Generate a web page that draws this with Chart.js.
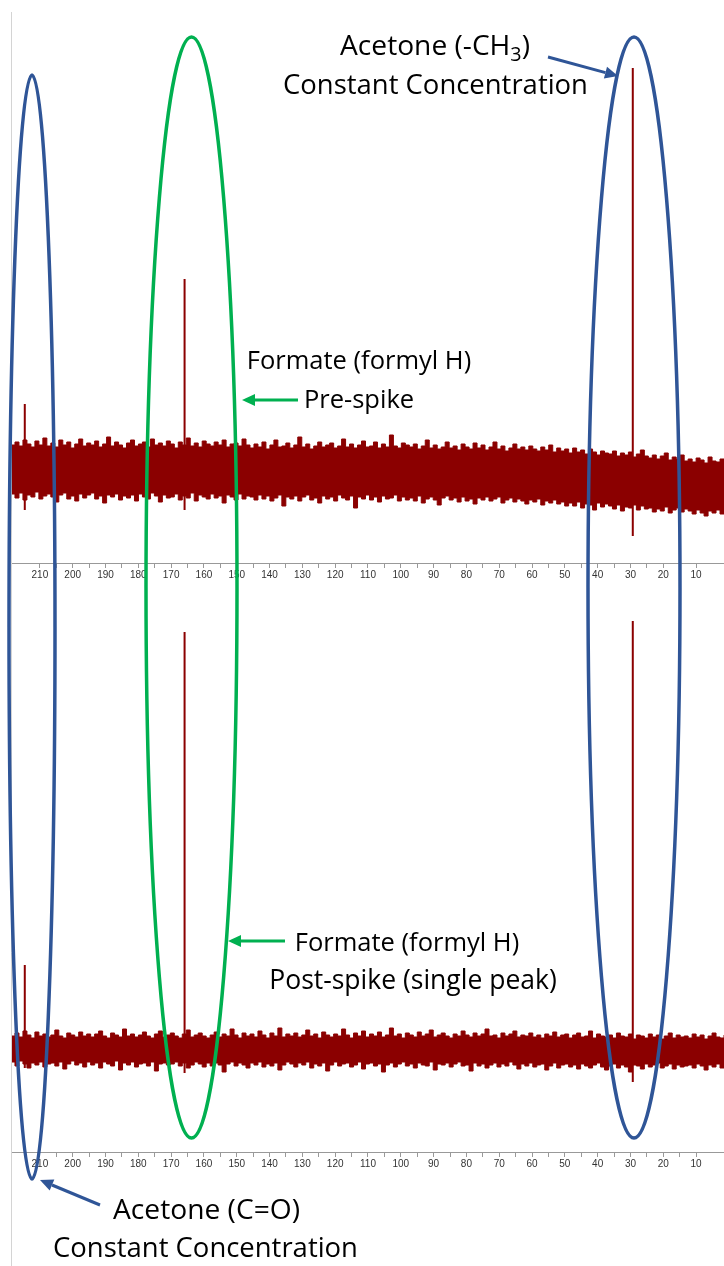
<!DOCTYPE html>
<html><head><meta charset="utf-8">
<script src="https://cdn.jsdelivr.net/npm/chart.js@4/dist/chart.umd.min.js"></script>
<style>html,body{margin:0;padding:0;background:#fff}#wrap{width:724px;height:1266px;position:relative}canvas{display:block}</style>
</head><body><div id="wrap"><canvas id="c" width="724" height="1266"></canvas></div>
<script>
// ---- data (13C NMR, ppm axis, arbitrary intensity) ----
const ppmStart = 218.8, ppmEnd = 1.5;
const tickValues = [210,200,190,180,170,160,150,140,130,120,110,100,90,80,70,60,50,40,30,20,10];
// pre-spike spectrum: noise envelope (upper / lower edge)
const preUpper = [30,33,29,35,31,28,34,30,37,29, 32,28,35,30,33,27,31,36,29,32, 30,34,28,31,38,29,33,30,27,32, 35,29,31,33,28,36,30,32,29,34,
 31,27,33,30,37,29,32,28,34,31, 29,33,30,35,28,31,32,29,36,30, 27,31,28,33,26,30,35,28,29,32, 27,30,38,28,31,26,29,33,28,30,
 32,27,29,36,28,31,27,30,34,28, 29,33,27,31,28,40,29,27,32,30, 28,31,26,29,35,27,30,26,28,33, 27,29,25,31,28,26,32,27,30,25,
 28,33,26,29,24,27,31,26,28,25, 29,26,24,28,25,30,23,27,24,26, 22,27,23,25,21,26,23,20,24,22, 21,24,19,22,20,23,18,21,25,19,
 17,20,16,19,22,15,18,16,20,14, 16,13,17,15,12,18,14,13,16,15];
const preLower = [-19,-23,-18,-25,-20,-22,-17,-24,-21,-19, -22,-27,-20,-18,-24,-21,-26,-19,-23,-20, -18,-24,-21,-28,-20,-22,-19,-25,-21,-23,
 -20,-26,-19,-22,-24,-18,-21,-27,-20,-23, -22,-19,-25,-21,-23,-18,-26,-20,-22,-24, -19,-23,-21,-28,-20,-22,-25,-19,-24,-21,
 -22,-25,-20,-24,-21,-26,-23,-20,-31,-22, -24,-21,-26,-22,-20,-25,-23,-28,-21,-24, -22,-26,-20,-23,-25,-21,-33,-22,-24,-20,
 -25,-22,-27,-21,-24,-23,-20,-26,-22,-25, -23,-26,-21,-28,-24,-22,-25,-30,-23,-21, -25,-23,-27,-22,-26,-24,-29,-23,-25,-22,
 -26,-24,-22,-28,-25,-23,-27,-24,-26,-29, -25,-27,-24,-30,-26,-28,-25,-29,-27,-31, -28,-31,-27,-33,-29,-30,-35,-28,-32,-29,
 -31,-34,-30,-36,-32,-33,-30,-35,-31,-34, -33,-37,-34,-36,-32,-38,-35,-33,-37,-34, -36,-39,-35,-38,-41,-36,-38,-35,-39,-37];
// post-spike spectrum: noise envelope
const postUpper = [14,17,13,19,15,12,18,14,16,13, 15,20,14,12,17,15,13,18,14,16, 13,16,19,14,12,17,15,13,21,14, 16,13,15,18,14,12,16,19,13,15,
 17,14,12,16,20,13,15,17,14,12, 15,18,13,16,14,21,15,12,17,14, 16,13,19,15,12,17,14,22,13,16, 14,17,13,15,20,14,16,12,18,15,
 13,16,14,21,15,12,17,14,19,13, 16,14,18,13,15,22,14,16,12,17, 15,13,18,14,16,20,13,15,17,14, 12,16,14,19,15,13,17,14,16,21,
 14,15,12,17,14,16,19,13,15,14, 17,13,15,12,16,14,18,13,15,16, 12,15,17,13,14,19,12,16,14,13, 15,12,17,14,13,16,11,15,14,12,
 16,13,15,11,14,17,12,15,13,14, 12,16,13,15,11,14,17,13,12,15];
const postLower = [-12,-16,-11,-14,-18,-13,-15,-12,-17,-14, -13,-16,-12,-19,-14,-11,-15,-13,-17,-12, -15,-13,-18,-12,-14,-16,-11,-20,-13,-15,
 -12,-17,-14,-13,-16,-12,-21,-14,-13,-15, -14,-12,-16,-13,-18,-15,-12,-14,-17,-13, -16,-13,-15,-22,-14,-12,-16,-13,-15,-18,
 -13,-15,-12,-17,-14,-16,-13,-20,-15,-12, -14,-17,-13,-15,-12,-18,-14,-16,-13,-21, -15,-12,-16,-14,-13,-17,-15,-12,-19,-14,
 -13,-16,-14,-22,-15,-13,-17,-14,-12,-16, -14,-18,-13,-15,-16,-12,-20,-14,-15,-13, -17,-14,-12,-16,-15,-21,-13,-16,-14,-18,
 -15,-13,-17,-14,-16,-12,-15,-19,-14,-16, -13,-17,-15,-14,-20,-16,-13,-18,-15,-14, -17,-15,-19,-14,-16,-18,-15,-13,-17,-20,
 -16,-14,-18,-15,-17,-22,-15,-16,-19,-14, -17,-15,-13,-18,-16,-14,-19,-15,-17,-16, -15,-18,-14,-16,-20,-15,-17,-14,-18,-16];
// peaks: acetone C=O, formate, acetone CH3
const peakPpm = [214.6, 165.9, 29.3];
const prePeakTop = [71, 196, 407];
const prePeakDip = [-35, -35, -61];
const postPeakTop = [85, 418, 429];
const postPeakDip = [-18, -23, -32];

// ---- layout constants ----
const panelOffset = 575;   // pre-spike trace stacked above post-spike
const DARK = '#8b0000';
const FAM = '"Open Sans", Lato, sans-serif';

function noisePoints(arr, off){
  const n = arr.length, step = (ppmStart - ppmEnd)/(n-1);
  return arr.map((v,i)=>({x: ppmStart - i*step, y: v + off}));
}
function peakPoints(tops, dips, off){
  const pts = [];
  peakPpm.forEach((p,i)=>{ pts.push({x:p,y:dips[i]+off},{x:p,y:tops[i]+off},{x:p,y:null}); });
  return pts;
}

const overlay = {
  id:'overlay',
  afterDraw(chart){
    const ctx = chart.ctx;
    ctx.save();
    // left frame line
    ctx.strokeStyle='#d4d4d4'; ctx.lineWidth=1;
    ctx.beginPath(); ctx.moveTo(11.5,12); ctx.lineTo(11.5,1266); ctx.stroke();
    // ellipses
    const ell=(cx,cy,rx,ry,col)=>{ctx.strokeStyle=col;ctx.lineWidth=3.5;ctx.beginPath();ctx.ellipse(cx,cy,rx,ry,0,0,Math.PI*2);ctx.stroke();};
    ell(32,627,23,552,'#2f5597');
    ell(191.5,587.5,45.5,550.5,'#00b050');
    ell(634,587.5,46,550.5,'#2f5597');
    // arrows
    const arrow=(x1,y1,x2,y2,col)=>{
      ctx.strokeStyle=col; ctx.fillStyle=col; ctx.lineWidth=3;
      const a=Math.atan2(y2-y1,x2-x1), L=13, W=6;
      const bx=x2-L*Math.cos(a), by=y2-L*Math.sin(a);
      ctx.beginPath(); ctx.moveTo(x1,y1); ctx.lineTo(bx,by); ctx.stroke();
      ctx.beginPath(); ctx.moveTo(x2,y2);
      ctx.lineTo(bx+W*Math.sin(a), by-W*Math.cos(a));
      ctx.lineTo(bx-W*Math.sin(a), by+W*Math.cos(a));
      ctx.closePath(); ctx.fill();
    };
    arrow(548,57,618,76,'#2f5597');
    arrow(298,400,242,400,'#00b050');
    arrow(285,941,228,941,'#00b050');
    arrow(100,1205,40,1180,'#2f5597');
    // text
    ctx.fillStyle='#000'; ctx.textBaseline='alphabetic'; ctx.textAlign='center';
    const fit=(s,cx,y,w)=>{
      ctx.font='24px '+FAM; const m=ctx.measureText(s).width;
      ctx.font=(24*w/m).toFixed(2)+'px '+FAM; ctx.fillText(s,cx,y);
    };
    const txt=(s,cx,y,sz)=>{ ctx.font=sz+'px '+FAM; ctx.fillText(s,cx,y); };
    // Acetone (-CH3) with subscript
    {
      const p1='Acetone (-CH', p3=')';
      const meas=(sz)=>{ctx.font=sz+'px '+FAM; const a=ctx.measureText(p1).width, c=ctx.measureText(p3).width;
        ctx.font=(sz*0.7)+'px '+FAM; const b=ctx.measureText('3').width; return [a,b,c];};
      let [a,b,c]=meas(24); const sz=24*190/(a+b+c); [a,b,c]=meas(sz);
      const x0=435-(a+b+c)/2; ctx.textAlign='left';
      ctx.font=sz+'px '+FAM; ctx.fillText(p1,x0,55);
      ctx.font=(sz*0.7)+'px '+FAM; ctx.fillText('3',x0+a,61);
      ctx.font=sz+'px '+FAM; ctx.fillText(p3,x0+a+b,55);
      ctx.textAlign='center';
    }
    fit('Constant Concentration',435.5,94,305);
    txt('Formate (formyl H)',359,369,25.5);
    txt('Pre-spike',359,408,25.5);
    txt('Formate (formyl H)',407,951,25.5);
    txt('Post-spike (single peak)',413,989,26.5);
    fit('Acetone (C=O)',206.5,1219,187);
    fit('Constant Concentration',205.5,1257,305);
    ctx.restore();
  }
};

function xAxis(yPos){
  return {
    type:'linear', axis:'x', min:ppmEnd, max:ppmStart, reverse:true, position:{y:yPos},
    afterBuildTicks(s){ s.ticks = s.ticks.filter(t=>Math.abs(t.value/5-Math.round(t.value/5))<1e-6); },
    ticks:{stepSize:5, autoSkip:false, maxRotation:0, padding:2, color:'#333',
      font:{family:'"Liberation Sans", Arial, sans-serif', size:10},
      callback:v=> tickValues.includes(v) ? String(v) : ''},
    grid:{drawOnChartArea:false, drawTicks:true, tickLength:4, tickColor:'#999'},
    border:{display:true, color:'#999', width:1}
  };
}

new Chart(document.getElementById('c'),{
  type:'line',
  data:{datasets:[
    {data:noisePoints(preUpper,panelOffset), borderColor:DARK, borderWidth:1, stepped:true, pointRadius:0, fill:false},
    {data:noisePoints(preLower,panelOffset), borderColor:DARK, borderWidth:1, stepped:true, pointRadius:0, fill:'-1', backgroundColor:DARK},
    {data:noisePoints(postUpper,0), borderColor:DARK, borderWidth:1, stepped:true, pointRadius:0, fill:false},
    {data:noisePoints(postLower,0), borderColor:DARK, borderWidth:1, stepped:true, pointRadius:0, fill:'-1', backgroundColor:DARK},
    {data:peakPoints(prePeakTop,prePeakDip,panelOffset), borderColor:DARK, borderWidth:2, pointRadius:0, spanGaps:false, fill:false},
    {data:peakPoints(postPeakTop,postPeakDip,0), borderColor:DARK, borderWidth:2, pointRadius:0, spanGaps:false, fill:false}
  ]},
  options:{
    responsive:false, animation:false, devicePixelRatio:1,
    layout:{padding:{left:11,right:0,top:0,bottom:0}},
    plugins:{legend:{display:false}, tooltip:{enabled:false}},
    scales:{
      x: xAxis(-102),
      x2: xAxis(487),
      y:{display:false, min:-216, max:1050}
    }
  },
  plugins:[overlay]
});
</script></body></html>
